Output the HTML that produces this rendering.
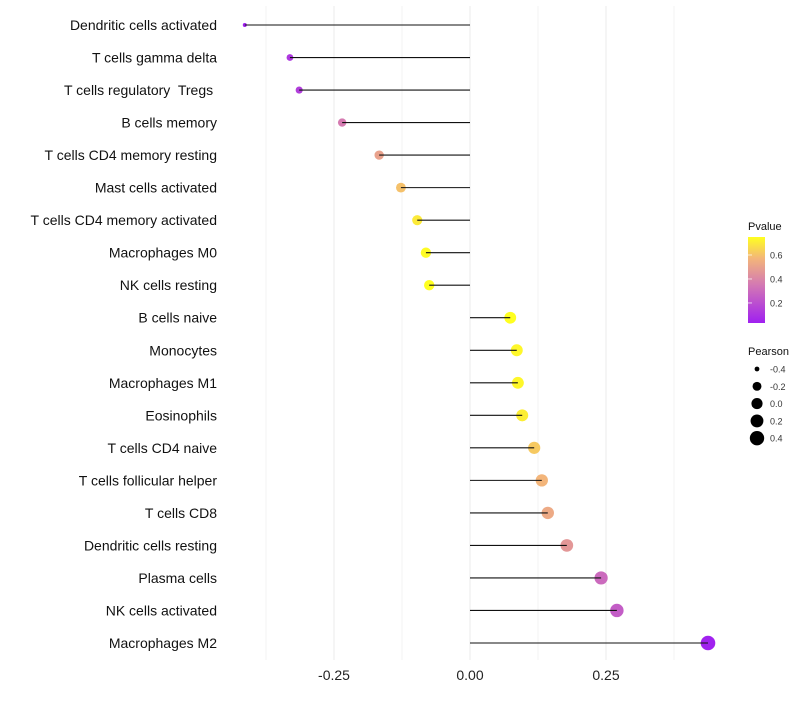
<!DOCTYPE html>
<html><head><meta charset="utf-8"><style>
body{margin:0;background:#fff;font-family:"Liberation Sans",sans-serif}
</style></head><body>
<svg id="chart" width="800" height="700" xmlns="http://www.w3.org/2000/svg" font-family="Liberation Sans, sans-serif">
<defs><linearGradient id="pg" x1="0" y1="1" x2="0" y2="0">
<stop offset="0" stop-color="#a020f0"/><stop offset="0.45" stop-color="#d47ab2"/><stop offset="0.75" stop-color="#f3b57a"/><stop offset="1" stop-color="#ffff20"/></linearGradient></defs>
<g id="grid"></g><g id="marks"></g><g id="labels"></g><g id="legend"></g>
</svg>
<script>
const categories=["Dendritic cells activated","T cells gamma delta","T cells regulatory  Tregs ","B cells memory","T cells CD4 memory resting","Mast cells activated","T cells CD4 memory activated","Macrophages M0","NK cells resting","B cells naive","Monocytes","Macrophages M1","Eosinophils","T cells CD4 naive","T cells follicular helper","T cells CD8","Dendritic cells resting","Plasma cells","NK cells activated","Macrophages M2"];
const pearson=[-0.414,-0.331,-0.314,-0.235,-0.167,-0.127,-0.097,-0.081,-0.075,0.074,0.086,0.088,0.096,0.118,0.132,0.143,0.178,0.241,0.270,0.4375];
const pvalues=[0.03,0.12,0.14,0.36,0.5,0.6,0.7,0.74,0.75,0.75,0.73,0.73,0.71,0.62,0.57,0.53,0.46,0.3,0.25,0.04];
const xTicks=[-0.25,0,0.25];
const xTickLabels=["-0.25","0.00","0.25"];
const sizeLegend=[-0.4,-0.2,0.0,0.2,0.4];
const colorLegendTicks=[0.2,0.4,0.6];
const NS="http://www.w3.org/2000/svg";
const X=v=>470+v*544;
const Y=i=>25+i*(618/19);
const R=v=>1.52+6.24*Math.sqrt(Math.max(0,v+0.42));
const pmin=0.033,pmax=0.75;
function col(p){const t=Math.max(0,Math.min(1,(p-pmin)/(pmax-pmin)));
 const st=[[0,[160,32,240]],[0.45,[212,122,178]],[0.75,[243,181,122]],[1,[255,255,32]]];
 for(let k=1;k<st.length;k++){if(t<=st[k][0]){const a=st[k-1],b=st[k],f=(t-a[0])/(b[0]-a[0]);return "rgb("+a[1].map((c,j)=>Math.round(c+(b[1][j]-c)*f)).join(",")+")";}}return "rgb(255,255,32)";}
function mk(tag,at,parent,txt){const e=document.createElementNS(NS,tag);for(const k in at)e.setAttribute(k,at[k]);if(txt!==undefined)e.textContent=txt;document.getElementById(parent).appendChild(e);return e;}
for(let v=-0.375;v<=0.376;v+=0.125){const g=mk("line",{x1:X(v),x2:X(v),y1:6,y2:660,stroke:"#ebebeb","stroke-width":Math.abs((v/0.25)%1)<1e-6?1:0.6},"grid");

}
xTicks.forEach((v,i)=>{const t=mk("text",{x:X(v),y:680,"text-anchor":"middle","font-size":14,fill:"#222"},"labels",xTickLabels[i]);

});
categories.forEach((c,i)=>{const y=Y(i);
 const t=mk("text",{x:217,y:y+5,"text-anchor":"end","font-size":14,fill:"#111","xml:space":"preserve",style:"white-space:pre"},"labels",c);
 
 
 const d=mk("circle",{cx:X(pearson[i]),cy:y,r:R(pearson[i]),fill:col(pvalues[i])},"marks");
 
 
 const l=mk("line",{x1:X(0),x2:X(pearson[i]),y1:y,y2:y,stroke:"#111","stroke-width":1.1},"marks");
 
 
});
let t=mk("text",{x:748,y:230,"font-size":11,fill:"#111"},"legend","Pvalue");


let cb=mk("rect",{x:748,y:237,width:17,height:86,fill:"url(#pg)"},"legend");


colorLegendTicks.forEach(v=>{const y=323-(v-pmin)/(pmax-pmin)*86;
 const tl=mk("text",{x:770,y:y+3.5,"font-size":9,fill:"#333"},"legend",v.toFixed(1));
 
 
 const tk=mk("line",{x1:748,x2:752,y1:y,y2:y,stroke:"#fff","stroke-width":0.7},"legend");
 
 });
t=mk("text",{x:748,y:355,"font-size":11,fill:"#111"},"legend","Pearson");


sizeLegend.forEach((v,i)=>{const y=369+i*17.3;
 const c=mk("circle",{cx:757,cy:y,r:R(v),fill:"#000"},"legend");
 
 
 const l=mk("text",{x:770,y:y+3.5,"font-size":9,fill:"#333"},"legend",v.toFixed(1));
 
 });
</script>
</body></html>
